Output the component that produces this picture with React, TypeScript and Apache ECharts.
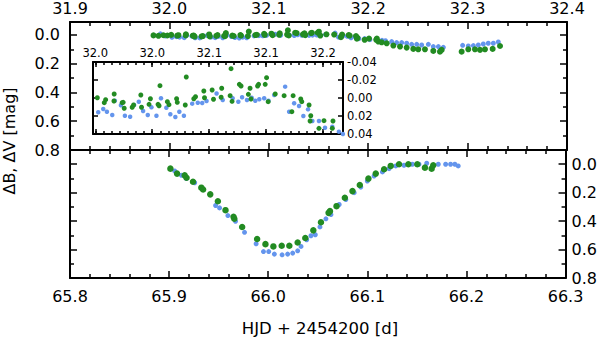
import React, { useEffect, useRef } from "react";
import * as echarts from "echarts";

// ---------- tick values / labels ----------
const topXTicks = [31.9, 32.0, 32.1, 32.2, 32.3, 32.4];
const bottomXTicks = [65.8, 65.9, 66.0, 66.1, 66.2, 66.3];
const mainYTicks = [0, 0.2, 0.4, 0.6, 0.8];
const mainYMinorTicks = [0.1, 0.3, 0.5, 0.7];
const insetXTicks = [32.0, 32.05, 32.1, 32.15, 32.2];
const insetXLabels = ["32.0", "32.0", "32.1", "32.1", "32.2"];
const insetYTicks = [-0.04, -0.02, 0, 0.02, 0.04];

// ---------- top panel: points outside the inset range ----------
const preGreenX = [31.984, 31.989, 31.994, 31.998];
const preGreenY = [0.003, 0.006, 0.002, 0.004];
const preBlueX = [31.991, 31.996];
const preBlueY = [-0.008, 0.008];

// ---------- inset (also the middle part of the top panel) ----------
const insetGreenX = [32.0018, 32.0079, 32.0091, 32.0166, 32.0164, 32.0236, 32.0245, 32.0254, 32.0324, 32.0336, 32.04, 32.0406, 32.0472, 32.0484, 32.0551, 32.056, 32.0568, 32.0633, 32.0647, 32.0714, 32.072, 32.079, 32.0799, 32.0865, 32.088, 32.0953, 32.0959, 32.1026, 32.1038, 32.1105, 32.111, 32.1184, 32.1192, 32.1201, 32.1265, 32.128, 32.1344, 32.1359, 32.1367, 32.1425, 32.1434, 32.1492, 32.1504, 32.1518, 32.158, 32.1658, 32.1726, 32.1737, 32.1804, 32.1813, 32.1877, 32.1886, 32.1892, 32.1964, 32.2008, 32.2081, 32.2087];
const insetGreenY = [-0.0003, 0.0052, 0.0019, -0.0044, 0.0033, 0.0052, 0.0048, 0.0114, 0.0103, 0.0078, -0.0033, 0.0103, 0.007, 0.0008, 0.007, 0.0086, -0.0137, 0.0041, 0.0074, 0.0008, 0.0048, 0.0078, -0.0233, 0.0008, -0.0014, -0.0078, -0.0003, -0.0089, 0.0014, -0.0008, -0.0108, -0.0026, -0.0326, 0.0037, -0.0152, -0.0133, -0.0041, -0.0108, 0.0011, -0.0133, -0.0152, -0.0152, -0.0226, 0.0041, -0.0044, -0.0026, 0.0152, -0.0026, 0.0011, 0.0041, 0.0078, 0.0256, 0.0197, 0.0337, 0.0252, 0.0337, 0.0256];
const insetBlueX = [32.0026, 32.007, 32.0102, 32.0149, 32.0172, 32.0225, 32.026, 32.0306, 32.0341, 32.0382, 32.042, 32.0461, 32.0493, 32.0537, 32.0577, 32.0624, 32.0659, 32.0703, 32.0738, 32.0778, 32.0851, 32.09, 32.0939, 32.0977, 32.1065, 32.1119, 32.1206, 32.1256, 32.1289, 32.1332, 32.1373, 32.1405, 32.144, 32.1483, 32.1521, 32.1571, 32.1667, 32.1702, 32.1746, 32.1789, 32.1827, 32.1868, 32.1906, 32.1964, 32.2017, 32.2081, 32.2139, 32.2174];
const insetBlueY = [0.0159, 0.0122, 0.0152, 0.0189, 0.003, 0.0081, 0.0197, 0.0208, 0.0078, 0.0041, 0.0144, 0.0189, 0.0103, 0.0197, 0.0003, 0.0108, 0.0181, 0.0211, 0.0152, 0.0197, 0.0063, 0.0052, 0.0056, 0.0033, -0.005, 0.0022, 0.0003, 0.0041, -0.0008, 0.0022, -0.0003, 0.003, 0.0014, 0.0003, 0.003, -0.0033, -0.0126, 0.0152, 0.0059, 0.0089, 0.02, 0.0126, 0.0256, 0.0256, 0.033, 0.0319, 0.0374, 0.04];

const postGreenX = [32.2102, 32.2136, 32.2186, 32.2253, 32.232, 32.2387, 32.2454, 32.2504, 32.2571, 32.2655, 32.2722, 32.2739, 32.294, 32.3007, 32.3074, 32.3125, 32.3175, 32.3252, 32.3326];
const postGreenY = [0.046, 0.051, 0.058, 0.074, 0.081, 0.088, 0.097, 0.1, 0.1, 0.111, 0.116, 0.104, 0.116, 0.1, 0.1, 0.104, 0.1, 0.097, 0.077];
const postBlueX = [32.2236, 32.2286, 32.2337, 32.2387, 32.2437, 32.2488, 32.2538, 32.2605, 32.2655, 32.2706, 32.2756, 32.295, 32.3007, 32.3058, 32.3108, 32.3158, 32.3208, 32.3259, 32.3309];
const postBlueY = [0.046, 0.053, 0.053, 0.058, 0.065, 0.065, 0.07, 0.065, 0.081, 0.081, 0.086, 0.072, 0.077, 0.074, 0.07, 0.063, 0.058, 0.058, 0.049];

// ---------- bottom panel ----------
const bottomGreenX = [65.9013, 65.908, 65.9157, 65.9176, 65.9241, 65.9325, 65.9343, 65.9415, 65.9492, 65.9569, 65.965, 65.9658, 65.9737, 65.9888, 65.9972, 66.0052, 66.0136, 66.0213, 66.0297, 66.0374, 66.0455, 66.0532, 66.0609, 66.0623, 66.0689, 66.0773, 66.085, 66.0924, 66.1011, 66.1085, 66.1169, 66.1236, 66.132, 66.1414, 66.1504, 66.1581, 66.1649, 66.1665];
const bottomGreenY = [0.031, 0.066, 0.078, 0.095, 0.123, 0.165, 0.178, 0.212, 0.26, 0.323, 0.37, 0.383, 0.441, 0.526, 0.562, 0.578, 0.573, 0.573, 0.55, 0.519, 0.465, 0.408, 0.342, 0.33, 0.295, 0.236, 0.189, 0.146, 0.101, 0.066, 0.035, 0.012, 0.0, 0.0, 0.0, 0.024, 0.031, 0.007];
const bottomBlueX = [65.9056, 65.9124, 65.9174, 65.9258, 65.9341, 65.9469, 65.9509, 65.9593, 65.967, 65.9761, 65.9878, 65.9952, 66.0005, 66.0062, 66.014, 66.0196, 66.0247, 66.0297, 66.0331, 66.0388, 66.0431, 66.0475, 66.0522, 66.0582, 66.0633, 66.0716, 66.0783, 66.0867, 66.0934, 66.1, 66.1068, 66.1152, 66.1219, 66.1287, 66.137, 66.1454, 66.1521, 66.1599, 66.1716, 66.179, 66.184, 66.1883, 66.1917];
const bottomBlueY = [0.047, 0.078, 0.101, 0.13, 0.177, 0.29, 0.307, 0.361, 0.401, 0.479, 0.559, 0.614, 0.614, 0.632, 0.637, 0.632, 0.625, 0.609, 0.578, 0.531, 0.503, 0.496, 0.441, 0.384, 0.354, 0.283, 0.248, 0.2, 0.161, 0.118, 0.083, 0.054, 0.031, 0.012, 0.007, 0.0, 0.0, -0.007, 0.0, 0.0, 0.0, 0.0, 0.012];

const GREEN = "#228B22";
const BLUE = "#6495ED";
const FONT = "DejaVu Sans";

const zip = (xs: number[], ys: number[]) => xs.map((x, i) => [x, ys[i]]);

const lineStyle = { color: "#000", width: 2 };
const tickStyle = { color: "#000", width: 1.5 };

function mainX(gridIndex: number, position: string, min: number, max: number, ticks: number[], showLabel: boolean, margin: number) {
  return {
    type: "value", gridIndex, position, min, max, interval: 0.1,
    axisLine: { show: true, onZero: false, lineStyle },
    axisTick: { show: true, inside: true, length: 7, lineStyle: tickStyle },
    minorTick: { show: true, splitNumber: 5, length: 4, lineStyle: tickStyle },
    axisLabel: {
      show: showLabel, customValues: ticks, margin,
      formatter: (v: number) => v.toFixed(1),
      fontFamily: FONT, fontSize: 16, color: "#000",
    },
    splitLine: { show: false }, minorSplitLine: { show: false },
  };
}

function yPair(gridIndex: number, position: string, min: number, max: number, showLabel: boolean, margin: number) {
  return [
    {
      type: "value", gridIndex, position, min, max, inverse: true,
      axisLine: { show: true, onZero: false, lineStyle },
      axisTick: { show: true, inside: true, length: 7, customValues: mainYTicks, lineStyle: tickStyle },
      axisLabel: {
        show: showLabel, customValues: mainYTicks, margin,
        formatter: (v: number) => Math.abs(v).toFixed(1),
        fontFamily: FONT, fontSize: 16, color: "#000",
      },
      splitLine: { show: false },
    },
    {
      type: "value", gridIndex, position, min, max, inverse: true,
      axisLine: { show: false, onZero: false },
      axisTick: { show: true, inside: true, length: 4, customValues: mainYMinorTicks, lineStyle: tickStyle },
      axisLabel: { show: false },
      splitLine: { show: false },
    },
  ];
}

const insetXMin = 31.998;
const insetXMax = 32.2175;
const insetXMinor: number[] = [];
for (let v = 32.0; v <= insetXMax + 1e-9; v += 0.05 / 7) {
  insetXMinor.push(+v.toFixed(5));
}

function insetX(position: string, showLabel: boolean) {
  return [
    {
      type: "value", gridIndex: 2, position, min: insetXMin, max: insetXMax,
      axisLine: { show: true, onZero: false, lineStyle },
      axisTick: { show: true, inside: true, length: 5, customValues: insetXTicks, lineStyle: tickStyle },
      axisLabel: {
        show: showLabel, customValues: insetXTicks, margin: 3,
        formatter: (v: number) => {
          let best = 0;
          insetXTicks.forEach((t, i) => { if (Math.abs(t - v) < Math.abs(insetXTicks[best] - v)) best = i; });
          return insetXLabels[best];
        },
        fontFamily: FONT, fontSize: 11.5, color: "#000",
      },
      splitLine: { show: false },
    },
    {
      type: "value", gridIndex: 2, position, min: insetXMin, max: insetXMax,
      axisLine: { show: false, onZero: false },
      axisTick: { show: true, inside: true, length: 3, customValues: insetXMinor, lineStyle: tickStyle },
      axisLabel: { show: false },
      splitLine: { show: false },
    },
  ];
}

function insetY(position: string, showLabel: boolean) {
  return {
    type: "value", gridIndex: 2, position, min: -0.04, max: 0.04, inverse: true,
    axisLine: { show: true, onZero: false, lineStyle },
    axisTick: { show: true, inside: true, length: 5, customValues: insetYTicks, lineStyle: tickStyle },
    axisLabel: {
      show: showLabel, customValues: insetYTicks, margin: 4,
      formatter: (v: number) => (Math.abs(v) < 1e-9 ? "0.00" : v.toFixed(2)),
      fontFamily: FONT, fontSize: 11.5, color: "#000",
    },
    splitLine: { show: false },
  };
}

export default function App() {
  const ref = useRef<HTMLDivElement>(null);

  useEffect(() => {
    if (!ref.current) return;
    const chart = echarts.init(ref.current, null, { renderer: "svg" });

    const topGreen = zip([...preGreenX, ...insetGreenX, ...postGreenX], [...preGreenY, ...insetGreenY, ...postGreenY]);
    const topBlue = zip([...preBlueX, ...insetBlueX, ...postBlueX], [...preBlueY, ...insetBlueY, ...postBlueY]);

    const xAxis = [
      mainX(0, "top", 31.9, 32.4, topXTicks, true, 6),
      mainX(0, "bottom", 31.9, 32.4, topXTicks, false, 6),
      mainX(1, "bottom", 65.8, 66.3, bottomXTicks, true, 10),
      mainX(1, "top", 65.8, 66.3, bottomXTicks, false, 6),
      ...insetX("top", true),
      ...insetX("bottom", false),
    ];
    const yAxis = [
      ...yPair(0, "left", -0.09, 0.8, true, 10),
      ...yPair(0, "right", -0.09, 0.8, false, 6),
      ...yPair(1, "left", -0.1, 0.8, false, 10),
      ...yPair(1, "right", -0.1, 0.8, true, 6),
      insetY("right", true),
      insetY("left", false),
    ];

    const sc = (data: number[][], xi: number, yi: number, color: string, size: number) => ({
      type: "scatter", xAxisIndex: xi, yAxisIndex: yi, data, symbol: "circle",
      symbolSize: size, itemStyle: { color, opacity: 1 }, silent: true,
    });

    chart.setOption({
      animation: false,
      backgroundColor: "#fff",
      grid: [
        { left: 70, right: 33, top: 22, height: 128 },
        { left: 70, right: 33, top: 150, height: 128 },
        { left: 93, top: 62, width: 250, height: 72, show: true, backgroundColor: "#fff", borderWidth: 0 },
      ],
      xAxis,
      yAxis,
      series: [
        sc(topBlue, 0, 0, BLUE, 5),
        sc(topGreen, 0, 0, GREEN, 6),
        sc(zip(bottomBlueX, bottomBlueY), 2, 4, BLUE, 5),
        sc(zip(bottomGreenX, bottomGreenY), 2, 4, GREEN, 6.5),
        sc(zip(insetBlueX, insetBlueY), 4, 8, BLUE, 4.5),
        sc(zip(insetGreenX, insetGreenY), 4, 8, GREEN, 5),
      ],
      graphic: [
        {
          type: "text", x: 9, y: 141, rotation: Math.PI / 2,
          style: { text: "ΔB, ΔV [mag]", font: `16px "${FONT}"`, align: "center", verticalAlign: "middle", fill: "#000" },
        },
        {
          type: "text", x: 320, y: 328,
          style: { text: "HJD + 2454200 [d]", font: `16.5px "${FONT}"`, align: "center", verticalAlign: "middle", fill: "#000" },
        },
      ],
    });

    return () => chart.dispose();
  }, []);

  return <div ref={ref} style={{ position: "absolute", left: 0, top: 0, width: 600, height: 338 }} />;
}
